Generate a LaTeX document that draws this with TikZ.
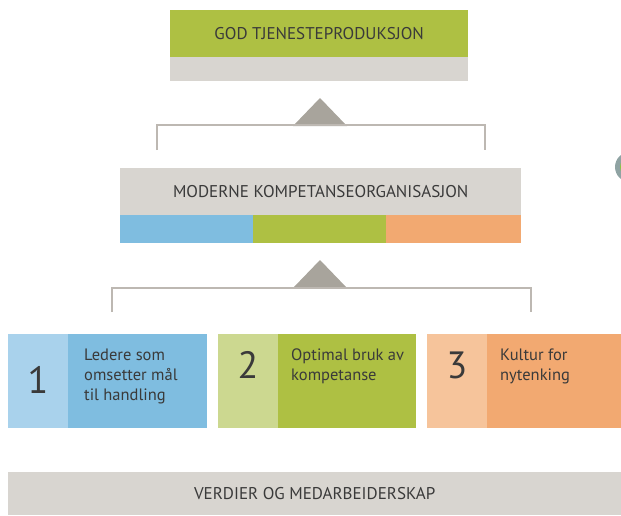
\documentclass[tikz,border=0pt]{standalone}
\usepackage{fontspec}
\setmainfont{PT Sans}
\definecolor{tgreen}{HTML}{AEC043}
\definecolor{tgray}{HTML}{D8D5D0}
\definecolor{tblue}{HTML}{7FBDE0}
\definecolor{torange}{HTML}{F2A971}
\definecolor{lblue}{HTML}{A9D2EC}
\definecolor{lgreen}{HTML}{CCD890}
\definecolor{lorange}{HTML}{F6C49B}
\definecolor{tri}{HTML}{A8A49C}
\definecolor{brk}{HTML}{BDB8B2}
\definecolor{txt}{HTML}{3A3A3A}
\definecolor{ring}{HTML}{8FA3A3}
\definecolor{dotg}{HTML}{8DC63F}
\begin{document}
\begin{tikzpicture}[x=1pt,y=-1pt,
  blk/.style={draw=none,inner sep=0pt,anchor=north west,text=txt},
  title/.style={font=\fontsize{17}{19}\selectfont},
  num/.style={blk,font=\fontsize{38}{40}\selectfont,anchor=center},
  desc/.style={blk,align=left,font=\fontsize{16.5}{20}\selectfont},
  bracket/.style={draw=brk,line width=1.2pt},
  tri/.style={fill=tri}]
\useasboundingbox (0,0) rectangle (621,515);
% top
\node[blk,fill=tgreen,minimum width=298pt,minimum height=47pt,title] (top) at (170,10) {GOD TJENESTEPRODUKSJON};
\node[blk,fill=tgray,minimum width=298pt,minimum height=24pt] (topbar) at (170,57) {};
\coordinate (t1a) at (293,126); \coordinate (t1b) at (320,98); \coordinate (t1c) at (347,126);
\fill[tri] (t1a) -- (t1b) -- (t1c) -- cycle;
\coordinate (b1a) at (157,150); \coordinate (b1b) at (157,125); \coordinate (b1c) at (485,125); \coordinate (b1d) at (485,150);
\draw[bracket] (b1a) -- (b1b) -- (b1c) -- (b1d);
% middle
\node[blk,fill=tgray,minimum width=401pt,minimum height=47pt,title] (mid) at (120,168) {MODERNE KOMPETANSEORGANISASJON};
\node[blk,fill=tblue,minimum width=133pt,minimum height=28pt] (mblue) at (120,215) {};
\node[blk,fill=tgreen,minimum width=133pt,minimum height=28pt] (mgreen) at (253,215) {};
\node[blk,fill=torange,minimum width=135pt,minimum height=28pt] (morange) at (386,215) {};
\coordinate (t2a) at (293,288); \coordinate (t2b) at (320,260); \coordinate (t2c) at (347,288);
\fill[tri] (t2a) -- (t2b) -- (t2c) -- cycle;
\coordinate (b2a) at (112,312); \coordinate (b2b) at (112,288); \coordinate (b2c) at (531,288); \coordinate (b2d) at (531,312);
\draw[bracket] (b2a) -- (b2b) -- (b2c) -- (b2d);
% bottom boxes
\node[blk,fill=lblue,minimum width=60pt,minimum height=94pt] (n1) at (8,334) {};
\node[blk,fill=tblue,minimum width=139pt,minimum height=94pt] (d1) at (68,334) {};
\node[num] (l1) at (38,380) {1};
\node[desc] (x1) at (84,349) {Ledere som\\omsetter mål\\til handling};
\node[blk,fill=lgreen,minimum width=60pt,minimum height=94pt] (n2) at (218,334) {};
\node[blk,fill=tgreen,minimum width=138pt,minimum height=94pt] (d2) at (278,334) {};
\node[num] (l2) at (248,365) {2};
\node[desc] (x2) at (291,349) {Optimal bruk av\\kompetanse};
\node[blk,fill=lorange,minimum width=60pt,minimum height=94pt] (n3) at (427,334) {};
\node[blk,fill=torange,minimum width=134pt,minimum height=94pt] (d3) at (487,334) {};
\node[num] (l3) at (457,365) {3};
\node[desc] (x3) at (500,349) {Kultur for\\nytenking};
% base
\node[blk,fill=tgray,minimum width=613pt,minimum height=43pt,title] (base) at (8,472) {VERDIER OG MEDARBEIDERSKAP};
% partial circle at right edge
\begin{scope}
\clip (0,0) rectangle (621,515);
\fill[ring] (630,167) circle (15);
\fill[dotg] (630,167) circle (10);
\end{scope}
\end{tikzpicture}
\end{document}
